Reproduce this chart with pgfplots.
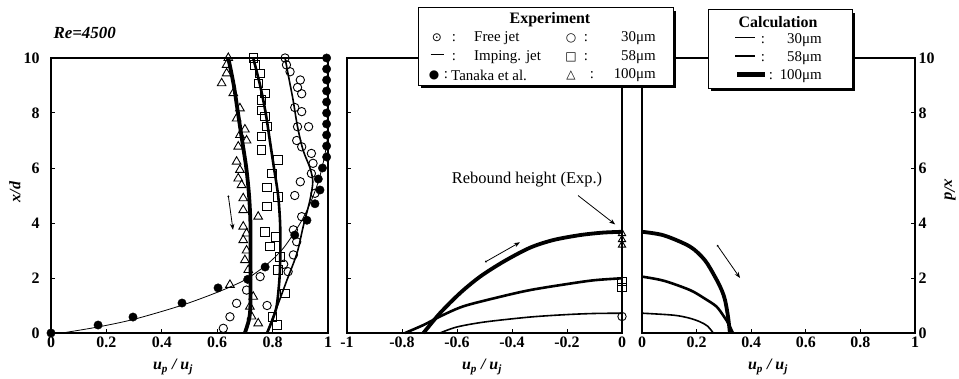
\documentclass[border=0pt]{standalone}
\usepackage{pgfplots}
\pgfplotsset{compat=1.18}
\usepackage{fontspec}
\setmainfont{Liberation Serif}
\newfontfamily\symfont{DejaVu Sans}
\usetikzlibrary{arrows.meta}

\tikzset{arr/.style={{Circle[length=1.8bp]}-{Stealth[length=6bp]}, line width=0.8bp}}
\pgfplotsset{
  panel/.style={
    scale only axis, height=275bp, ymin=0, ymax=10, ytick={0,2,4,6,8,10},
    tick align=inside, major tick length=4bp,
    xtick pos=lower,
    axis line style={line width=1.2bp},
    every tick/.style={black, line width=1bp},
    tick label style={font=\fontsize{16}{16}\selectfont\bfseries},
    /pgf/number format/assume math mode=true,
    clip=false,
  },
  circ/.style={only marks, mark=o, mark size=4.2bp, mark options={fill=white, line width=0.9bp}},
  sq/.style={only marks, mark=square, mark size=4.2bp, mark options={fill=white, line width=0.9bp}},
  tri/.style={only marks, mark=triangle, mark size=5bp, mark options={fill=white, line width=0.9bp}},
  tan/.style={only marks, mark=*, mark size=4.2bp, mark options={fill=black}},
  c30/.style={no marks, line width=1.6bp, smooth},
  c58/.style={no marks, line width=2.6bp, smooth},
  c100/.style={no marks, line width=3.8bp, smooth},
}

\begin{document}
\begin{tikzpicture}[x=1bp,y=1bp]
\path[use as bounding box] (0,0) rectangle (959,378);

% ---------------- left panel ----------------
\begin{axis}[panel, at={(51bp,45bp)}, anchor=south west, width=277bp,
  xmin=0, xmax=1, xtick={0,0.2,0.4,0.6,0.8,1}, ytick pos=left,
  yticklabel style={xshift=-8bp}]
\addplot[circ] table {
0.845 10
0.85 9.75
0.863 9.5
0.9 9.2
0.89 8.93
0.905 8.7
0.88 8.2
0.905 8.05
0.93 7.5
0.89 7.5
0.887 7.0
0.905 6.77
0.94 6.53
0.946 6.17
0.94 5.8
0.9 5.5
0.953 5.08
0.88 5.0
0.905 4.23
0.875 3.75
0.887 3.32
0.875 2.84
0.84 2.5
0.856 2.23
0.755 2.05
0.706 1.56
0.67 1.08
0.646 0.59
0.622 0.17
0.78 1.0
};
\addplot[sq] table {
0.73 10
0.736 9.75
0.755 9.44
0.748 9.08
0.773 8.72
0.76 8.47
0.76 8.1
0.773 7.87
0.779 7.5
0.76 7.14
0.76 6.65
0.82 6.3
0.797 5.8
0.78 5.3
0.82 4.95
0.779 4.6
0.773 3.68
0.81 3.5
0.79 3.14
0.827 2.77
0.82 2.3
0.845 1.44
0.80 0.58
0.815 0.3
};
\addplot[tri] table {
0.64 10
0.634 9.75
0.634 9.44
0.616 9.08
0.658 8.72
0.682 8.17
0.67 7.8
0.70 7.4
0.682 7.2
0.706 7.0
0.676 6.78
0.67 6.23
0.682 5.93
0.676 5.62
0.688 5.38
0.694 4.9
0.694 4.47
0.748 4.23
0.694 3.87
0.706 3.62
0.694 3.38
0.706 3.0
0.70 2.65
0.712 2.29
0.646 1.75
0.73 1.32
0.718 0.96
0.724 0.6
0.748 0.35
};
\addplot[tan] table {
0 0
0.17 0.29
0.296 0.58
0.473 1.09
0.603 1.64
0.71 1.95
0.773 2.4
0.88 3.56
0.924 4.1
0.953 4.7
0.971 5.2
0.965 5.6
0.98 6.0
0.995 6.4
0.995 6.8
0.995 7.2
0.995 7.6
0.995 8.0
0.995 8.4
0.995 8.8
0.995 9.2
0.995 9.6
0.995 10
};
\addplot[no marks, line width=0.8bp, smooth] table {
0.04 0
0.17 0.22
0.3 0.5
0.47 1.0
0.6 1.48
0.7 1.93
0.78 2.5
0.84 3.1
0.9 4.0
0.935 4.7
0.965 5.5
0.985 6.3
0.997 7.0
1 7.5
};
\addplot[c100] table {
0.70 0
0.715 0.5
0.72 1
0.72 2
0.72 3
0.72 4
0.715 5
0.705 6
0.69 7
0.675 8
0.66 9
0.64 10
};
\addplot[c58] table {
0.78 0
0.80 0.5
0.815 1
0.825 2
0.828 3
0.827 4
0.82 5
0.805 6
0.79 7
0.775 8
0.755 9
0.73 10
};
\addplot[c30] table {
0.78 0
0.816 0.95
0.852 1.93
0.888 2.9
0.91 3.85
0.935 4.84
0.945 5.5
0.935 6
0.91 6.65
0.89 7.5
0.874 8.47
0.86 9.2
0.845 10
};
\draw[arr] (axis cs:0.64,5.0) -- (axis cs:0.657,3.75);
\end{axis}

% ---------------- middle panel ----------------
\begin{axis}[panel, at={(347bp,45bp)}, anchor=south west, width=275bp,
  xmin=-1, xmax=0, xtick={-1,-0.8,-0.6,-0.4,-0.2,0}, ytick pos=left, yticklabels={}]
\addplot[no marks, line width=0.8bp] table {
0 0
0 10
};
\addplot[c100] table {
-0.722 0
-0.662 0.72
-0.589 1.45
-0.516 2.05
-0.43 2.6
-0.335 3.1
-0.25 3.38
-0.153 3.56
-0.07 3.65
0 3.68
};
\addplot[c58] table {
-0.789 0
-0.72 0.3
-0.662 0.6
-0.577 0.97
-0.45 1.3
-0.335 1.56
-0.2 1.78
-0.1 1.92
0 1.99
};
\addplot[c30] table {
-0.662 0
-0.6 0.22
-0.5 0.4
-0.335 0.58
-0.2 0.67
-0.1 0.71
0 0.72
};
\addplot[circ] table {
0 0.6
};
\addplot[sq] table {
0 1.65
0 1.87
};
\addplot[tri, mark size=4.2bp] table {
0 3.2
0 3.4
0 3.62
};
\draw[arr] (axis cs:-0.498,2.58) -- (axis cs:-0.371,3.3);
\draw[-{Stealth[length=6bp]}, line width=0.8bp] (axis cs:-0.16,5.0) -- (axis cs:-0.025,3.95);
\end{axis}

% ---------------- right panel ----------------
\begin{axis}[panel, at={(642bp,45bp)}, anchor=south west, width=273bp,
  xmin=0, xmax=1, xtick={0,0.2,0.4,0.6,0.8,1}, ytick pos=right, yticklabel pos=right]
\addplot[c100] table {
0 3.68
0.08 3.55
0.176 3.14
0.23 2.65
0.267 2.05
0.29 1.6
0.304 1.2
0.315 0.6
0.322 0
};
\addplot[c58] table {
0 2.05
0.08 1.9
0.176 1.56
0.23 1.25
0.273 0.96
0.3 0.6
0.316 0.35
0.333 0
};
\addplot[c30] table {
0 0.72
0.114 0.65
0.17 0.55
0.212 0.41
0.24 0.25
0.261 0
};
\draw[arr] (axis cs:0.275,3.2) -- (axis cs:0.359,2.0);
\end{axis}

% ---------------- labels ----------------
\node[anchor=west, font=\fontsize{17}{17}\selectfont\bfseries\itshape] at (50,345) {Re=4500};
\node[rotate=90, font=\fontsize{16}{16}\selectfont\bfseries\itshape] at (15,186) {x/d};
\node[rotate=-90, font=\fontsize{16}{16}\selectfont\bfseries\itshape] at (950,188) {x/d};
\foreach \xx in {173,482,768} {
  \node[font=\fontsize{16}{16}\selectfont\bfseries\itshape] at (\xx,11) {u\textsubscript{p} / u\textsubscript{j}};
}
\node[font=\fontsize{16.5}{16.5}\selectfont] at (527,198) {Rebound height (Exp.)};

% ---------------- legend boxes ----------------
\fill (421,290) rectangle (676,367);
\filldraw[fill=white, line width=1bp] (418,293) rectangle (673,370);
\begin{scope}[every node/.style={font=\fontsize{15}{15}\selectfont, inner sep=0pt}]
\node[font=\fontsize{16}{16}\selectfont\bfseries] at (550,358) {Experiment};
\node at (437,340) {\symfont\fontsize{12}{12}\selectfont ⊙};
\node at (437,321) {\rule[0.3em]{13bp}{0.8bp}};
\node at (434,303) {\symfont\fontsize{12}{12}\selectfont ●};
\node at (454,340) {:};
\node at (454,321) {:};
\node at (446,303) {:};
\node[anchor=west] at (474,340) {Free jet};
\node[anchor=west] at (474,321) {Imping. jet};
\node[anchor=west] at (451,303) {Tanaka et al.};
\node at (571,340) {\symfont\fontsize{12}{12}\selectfont ○};
\node at (571,321) {\symfont\fontsize{12}{12}\selectfont □};
\node at (571,303) {\symfont\fontsize{12}{12}\selectfont △};
\node at (586,340) {:};
\node at (586,321) {:};
\node at (592,303) {:};
\node[anchor=east] at (656,340) {30μm};
\node[anchor=east] at (656,321) {58μm};
\node[anchor=east] at (656,303) {100μm};
\end{scope}

\fill (711,287) rectangle (855,365);
\filldraw[fill=white, line width=1bp] (708,290) rectangle (852,368);
\begin{scope}[every node/.style={font=\fontsize{15}{15}\selectfont, inner sep=0pt}]
\node[font=\fontsize{16}{16}\selectfont\bfseries] at (778,356) {Calculation};
\node at (745,338) {\rule[0.3em]{20bp}{1.4bp}};
\node at (745,320) {\rule[0.25em]{20bp}{2.6bp}};
\node at (751,302) {\rule[0.2em]{28bp}{4.4bp}};
\node at (763,338) {:};
\node at (763,320) {:};
\node at (771,302) {:};
\node[anchor=east] at (822,338) {30μm};
\node[anchor=east] at (822,320) {58μm};
\node[anchor=east] at (822,302) {100μm};
\end{scope}
\end{tikzpicture}
\end{document}
